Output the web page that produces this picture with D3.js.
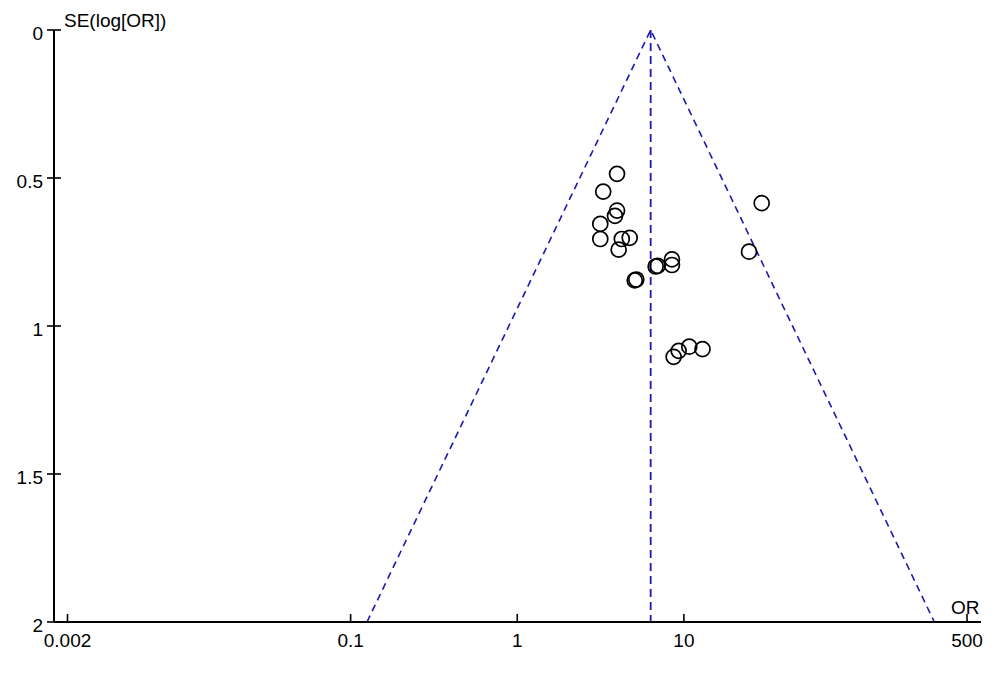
<!DOCTYPE html>
<html>
<head>
<meta charset="utf-8">
<script src="https://cdn.jsdelivr.net/npm/d3@7"></script>
<style>
  html, body { margin: 0; padding: 0; background: #fff; }
  svg { display: block; }
  text { font-family: "Liberation Sans", Arial, sans-serif; fill: #000; }
</style>
</head>
<body>
<svg id="chart" width="1000" height="677"></svg>
<script>
// ---- data ----
const studyOR = [3.97, 3.28, 3.97, 3.86, 3.15, 3.15, 4.24, 4.73, 4.06, 5.07, 5.18,
                 6.77, 6.96, 8.48, 8.48, 29.3, 24.6, 8.68, 9.30, 10.77, 12.94];
const studySE = [0.486, 0.546, 0.610, 0.628, 0.655, 0.706, 0.706, 0.702, 0.742, 0.846, 0.843,
                 0.799, 0.797, 0.775, 0.794, 0.585, 0.749, 1.104, 1.084, 1.070, 1.078];
const pooledOR = 6.32;
const seMax = 2;
const xTicks = [0.002, 0.1, 1, 10, 500];
const xTickLabels = ["0.002", "0.1", "1", "10", "500"];
const yTicks = [0, 0.5, 1, 1.5, 2];
const yTickLabels = ["0", "0.5", "1", "1.5", "2"];

// ---- layout ----
const svg = d3.select("#chart");
const axisX = 54, axisY = 622;
const x = d3.scaleLog().domain([0.002, 500]).range([67.5, 967]);
const y = d3.scaleLinear().domain([0, 2]).range([30, 622]);

const blue = "#1a1ab0";

// funnel lines
const z = 1.96;
const apex = [pooledOR, 0];
const leftEnd = [pooledOR * Math.exp(-z * seMax), seMax];
const rightEnd = [pooledOR * Math.exp(z * seMax), seMax];
const line = d3.line().x(d => x(d[0])).y(d => y(d[1]));

svg.append("path").attr("d", line([leftEnd, apex, rightEnd]))
  .attr("fill", "none").attr("stroke", blue).attr("stroke-width", 1.6)
  .attr("stroke-dasharray", "7,5");
svg.append("path").attr("d", line([[pooledOR, 0], [pooledOR, seMax]]))
  .attr("fill", "none").attr("stroke", blue).attr("stroke-width", 1.8)
  .attr("stroke-dasharray", "8,5");

// axes
const g = svg.append("g");
g.append("line").attr("x1", axisX).attr("x2", axisX).attr("y1", y(0)).attr("y2", axisY)
  .attr("stroke", "#000").attr("stroke-width", 2);
g.append("line").attr("x1", axisX).attr("x2", 981).attr("y1", axisY).attr("y2", axisY)
  .attr("stroke", "#000").attr("stroke-width", 2);

// y ticks
yTicks.forEach((t, i) => {
  g.append("line").attr("x1", axisX - 7).attr("x2", axisX + 7)
    .attr("y1", y(t)).attr("y2", y(t)).attr("stroke", "#000").attr("stroke-width", 1.6);
  g.append("text").attr("x", 43).attr("y", y(t) + 9.5)
    .attr("text-anchor", "end").attr("font-size", 19).text(yTickLabels[i]);
});

// x ticks
xTicks.forEach((t, i) => {
  g.append("line").attr("x1", x(t)).attr("x2", x(t))
    .attr("y1", axisY - 8).attr("y2", axisY + 1).attr("stroke", "#000").attr("stroke-width", 1.6);
  g.append("text").attr("x", x(t)).attr("y", 647)
    .attr("text-anchor", "middle").attr("font-size", 19).text(xTickLabels[i]);
});

// axis titles
svg.append("text").attr("x", 64).attr("y", 27).attr("font-size", 19).text("SE(log[OR])");
svg.append("text").attr("x", 951).attr("y", 614).attr("font-size", 19).text("OR");

// points
svg.append("g").selectAll("circle")
  .data(studyOR.map((d, i) => [d, studySE[i]]))
  .join("circle")
  .attr("cx", d => x(d[0])).attr("cy", d => y(d[1])).attr("r", 7.5)
  .attr("fill", "none").attr("stroke", "#000").attr("stroke-width", 1.7);
</script>
</body>
</html>
